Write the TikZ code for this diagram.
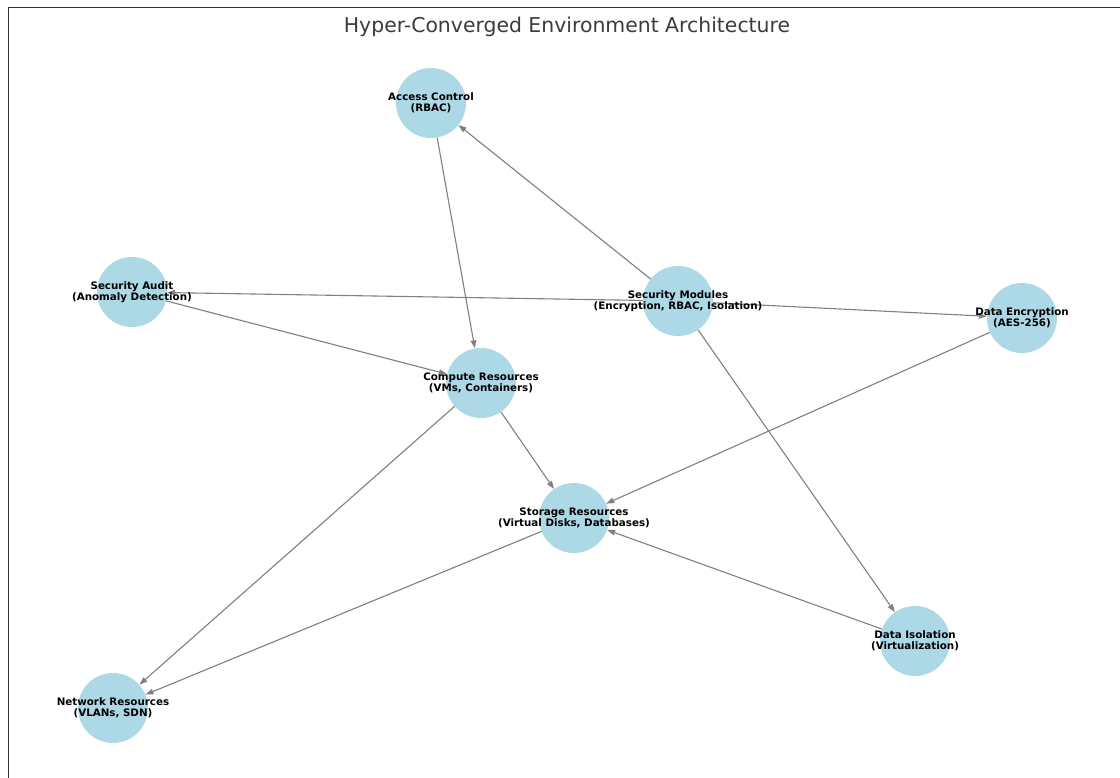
\documentclass[tikz,border=0pt]{standalone}
\usepackage{fontspec}
\setmainfont{DejaVu Sans}
\usetikzlibrary{arrows.meta}

\definecolor{nodeblue}{RGB}{173,216,230}
\definecolor{edgegray}{RGB}{128,128,128}
\definecolor{titlegray}{RGB}{60,60,60}

\begin{document}
\begin{tikzpicture}[x=1pt,y=-1pt,>={Triangle[length=8pt,width=5.5pt]},
	hub/.style={circle,fill=nodeblue,minimum size=70pt,inner sep=0pt},
	lbl/.style={font=\fontsize{10.3}{10.5}\selectfont\bfseries,align=center,inner sep=0pt},
	link/.style={->,draw=edgegray,line width=1.1pt}]
	
	%----------------------
	% Khung
	%----------------------
	\useasboundingbox (0,0) rectangle (1120,778);
	\fill[white] (0,0) rectangle (1120,778);
	\draw[line width=1pt,black!80] (8,778)--(8,7.5)--(1120,7.5);
	
	% Tiêu đề
	\node[font=\fontsize{20.4}{24}\selectfont,text=titlegray] (title) at (567,27) {Hyper-Converged Environment Architecture};
	
	%----------------------
	% Các nút
	%----------------------
	\node[hub] (acc) at (431,103) {};
	\node[hub] (aud) at (132,292) {};
	\node[hub] (sec) at (678,301) {};
	\node[hub] (enc) at (1022,318) {};
	\node[hub] (cmp) at (481,383) {};
	\node[hub] (sto) at (574,518) {};
	\node[hub] (iso) at (915,641) {};
	\node[hub] (net) at (113,708) {};
	
	%----------------------
	% Các cạnh
	%----------------------
	\draw[link] (sec)--(acc);
	\draw[link] (sec)--(aud);
	\draw[link] (sec)--(enc);
	\draw[link] (sec)--(iso);
	\draw[link] (acc)--(cmp);
	\draw[link] (aud)--(cmp);
	\draw[link] (cmp)--(sto);
	\draw[link] (cmp)--(net);
	\draw[link] (enc)--(sto);
	\draw[link] (iso)--(sto);
	\draw[link] (sto)--(net);
	
	% Nhãn
	\node[lbl] at (acc) {Access Control\\(RBAC)};
	\node[lbl] at (aud) {Security Audit\\(Anomaly Detection)};
	\node[lbl] at (sec) {Security Modules\\(Encryption, RBAC, Isolation)};
	\node[lbl] at (enc) {Data Encryption\\(AES-256)};
	\node[lbl] at (cmp) {Compute Resources\\(VMs, Containers)};
	\node[lbl] at (sto) {Storage Resources\\(Virtual Disks, Databases)};
	\node[lbl] at (iso) {Data Isolation\\(Virtualization)};
	\node[lbl] at (net) {Network Resources\\(VLANs, SDN)};
	
\end{tikzpicture}
\end{document}
